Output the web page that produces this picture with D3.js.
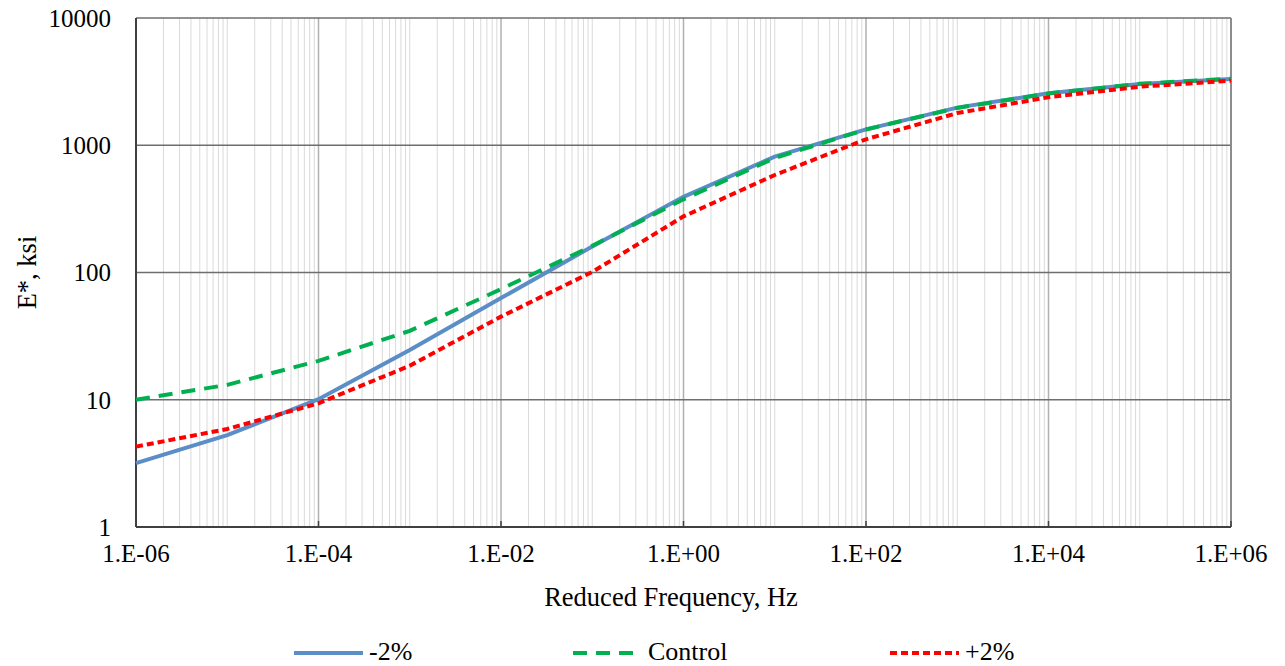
<!DOCTYPE html>
<html><head><meta charset="utf-8">
<script src="https://cdn.jsdelivr.net/npm/d3@7"></script>
<style>html,body{margin:0;padding:0;background:#fff;} svg{display:block;font-family:"Liberation Serif","Times New Roman",serif;}</style>
</head><body>
<script>
const freq = [1e-6, 1e-5, 1e-4, 1e-3, 1e-2, 1e-1, 1e0, 1e1, 1e2, 1e3, 1e4, 1e5, 1e6];
const minus2 = [3.18, 5.28, 10.1, 24.6, 63, 160, 393, 813, 1334, 1975, 2560, 3030, 3318];
const control = [10.0, 13.1, 20.2, 34.8, 74, 162, 376, 795, 1330, 1965, 2550, 3040, 3335];
const plus2 = [4.28, 5.89, 9.38, 18.5, 45, 101, 276, 584, 1114, 1790, 2383, 2885, 3215];
const xTicks = [1e-6, 1e-4, 1e-2, 1e0, 1e2, 1e4, 1e6];
const xTickLabels = ["1.E-06", "1.E-04", "1.E-02", "1.E+00", "1.E+02", "1.E+04", "1.E+06"];
const yTicks = [1, 10, 100, 1000, 10000];
const yTickLabels = ["1", "10", "100", "1000", "10000"];
const seriesNames = ["-2%", "Control", "+2%"];

const W = 1285, H = 666;
const L = 136, R = 1231, T = 18, B = 527;
const svg = d3.select("body").append("svg").attr("width", W).attr("height", H);
const x = d3.scaleLog().domain([1e-6, 1e6]).range([L, R]);
const y = d3.scaleLog().domain([1, 10000]).range([B, T]);

// minor vertical gridlines
const minor = [];
for (let e = -6; e < 6; e++) {
  for (let m = 1; m <= 9; m++) {
    const v = m * Math.pow(10, e);
    if (m === 1 && e % 2 === 0) continue;
    minor.push(v);
  }
}
svg.append("g").selectAll("line").data(minor).join("line")
  .attr("x1", d => x(d)).attr("x2", d => x(d)).attr("y1", T).attr("y2", B)
  .attr("stroke", "#dadada").attr("stroke-width", 1);
// major vertical gridlines
svg.append("g").selectAll("line").data(xTicks.slice(1, -1)).join("line")
  .attr("x1", d => x(d)).attr("x2", d => x(d)).attr("y1", T).attr("y2", B)
  .attr("stroke", "#b0b0b0").attr("stroke-width", 1.5);
// horizontal major gridlines
svg.append("g").selectAll("line").data(yTicks.slice(1)).join("line")
  .attr("x1", L).attr("x2", R).attr("y1", d => y(d)).attr("y2", d => y(d))
  .attr("stroke", "#6e6e6e").attr("stroke-width", 1.5);
// right border
svg.append("line").attr("x1", R).attr("x2", R).attr("y1", T).attr("y2", B)
  .attr("stroke", "#8c8c8c").attr("stroke-width", 2);
// ticks inside bottom
svg.append("g").selectAll("line").data(xTicks).join("line")
  .attr("x1", d => x(d)).attr("x2", d => x(d)).attr("y1", B - 6).attr("y2", B)
  .attr("stroke", "#404040").attr("stroke-width", 1.5);
// axes lines
svg.append("line").attr("x1", L).attr("x2", L).attr("y1", T).attr("y2", B)
  .attr("stroke", "#404040").attr("stroke-width", 2);
svg.append("line").attr("x1", L).attr("x2", R).attr("y1", B).attr("y2", B)
  .attr("stroke", "#404040").attr("stroke-width", 2);

// series
const line = d3.line().x((d, i) => x(freq[i])).y(d => y(d));
const styles = [
  {data: minus2, color: "#5b8dc6", dash: null},
  {data: control, color: "#00b050", dash: "14,9"},
  {data: plus2, color: "#ff0000", dash: "7,4"}
];
styles.forEach(s => {
  svg.append("path").datum(s.data).attr("d", line)
    .attr("fill", "none").attr("stroke", s.color).attr("stroke-width", 4)
    .attr("stroke-dasharray", s.dash);
});

// tick labels
svg.append("g").selectAll("text").data(yTicks).join("text")
  .attr("x", 111).attr("y", d => y(d)).attr("dy", "0.35em")
  .attr("text-anchor", "end").attr("font-size", 25).attr("fill", "#000")
  .text((d, i) => yTickLabels[i]);
svg.append("g").selectAll("text").data(xTicks).join("text")
  .attr("x", d => x(d)).attr("y", 562)
  .attr("text-anchor", "middle").attr("font-size", 25).attr("fill", "#000")
  .text((d, i) => xTickLabels[i]);

// axis titles
svg.append("text").attr("x", 671).attr("y", 606).attr("text-anchor", "middle")
  .attr("font-size", 26.5).text("Reduced Frequency, Hz");
svg.append("text").attr("transform", `translate(36,${(T + B) / 2}) rotate(-90)`)
  .attr("text-anchor", "middle").attr("font-size", 26.5).text("E*, ksi");

// legend
const legX = [294, 573, 890];
styles.forEach((s, i) => {
  svg.append("line").attr("x1", legX[i]).attr("x2", legX[i] + 69).attr("y1", 653).attr("y2", 653)
    .attr("stroke", s.color).attr("stroke-width", 4).attr("stroke-dasharray", s.dash);
  svg.append("text").attr("x", legX[i] + 75).attr("y", 660).attr("font-size", 26)
    .text(seriesNames[i]);
});
</script>
</body></html>
